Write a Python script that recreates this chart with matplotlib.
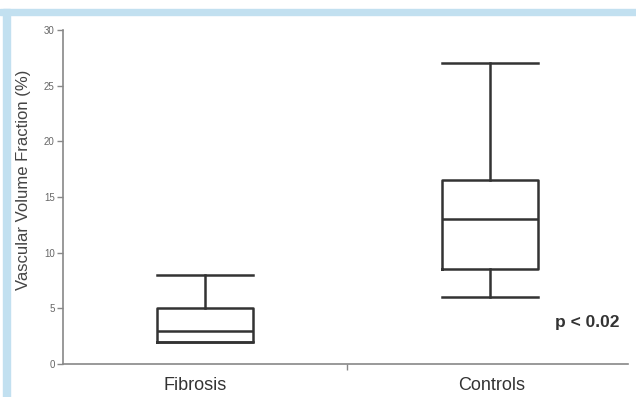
import matplotlib.pyplot as plt
from matplotlib.patches import Rectangle

plt.rcParams['font.family'] = ['Liberation Sans', 'DejaVu Sans']

# values
groups = ['Fibrosis', 'Controls']
whisk_lo = [2, 6]
q1 = [2, 8.5]
median = [3, 13]
q3 = [5, 16.5]
whisk_hi = [8, 27]
y_ticks = [0, 5, 10, 15, 20, 25, 30]
p_text = 'p < 0.02'

fig = plt.figure(figsize=(6.36, 3.97), dpi=100)

# light blue frame at top and left
blue = '#c2e0f0'
fig.patches.append(Rectangle((0, 1 - 15/397), 1, 6/397, transform=fig.transFigure,
                             color=blue, zorder=0))
fig.patches.append(Rectangle((3/636, 0), 7/636, 1 - 9/397, transform=fig.transFigure,
                             color=blue, zorder=0))

ax = fig.add_axes([63/636, 33/397, 565/636, 334/397])

stats = []
for i in range(len(groups)):
    stats.append({'whislo': whisk_lo[i], 'q1': q1[i], 'med': median[i],
                  'q3': q3[i], 'whishi': whisk_hi[i], 'fliers': []})

lw = 1.8
dark = '#333333'
ax.bxp(stats, positions=[0, 1], widths=0.337, showfliers=False,
       boxprops=dict(color=dark, linewidth=lw),
       medianprops=dict(color=dark, linewidth=lw),
       whiskerprops=dict(color=dark, linewidth=lw),
       capprops=dict(color=dark, linewidth=lw),
       capwidths=0.337)

ax.set_xlim(-0.498, 1.484)
ax.set_ylim(0, 30)

for s in ['top', 'right']:
    ax.spines[s].set_visible(False)
for s in ['left', 'bottom']:
    ax.spines[s].set_color('#888888')
    ax.spines[s].set_linewidth(1.2)

ax.set_yticks(y_ticks)
ax.set_yticklabels([str(t) for t in y_ticks], fontsize=7, color='#666666')
ax.tick_params(axis='y', length=4, width=1, color='#888888', pad=2)

# only a small tick between the groups; group names placed as text
ax.set_xticks([0.5])
ax.set_xticklabels([''])
ax.tick_params(axis='x', length=4, width=1, color='#888888')
label_x = [-0.035, 1.007]
for i in range(len(groups)):
    ax.text(label_x[i], -0.039, groups[i], transform=ax.get_xaxis_transform(),
            fontsize=13, color='#333333', ha='center', va='top')

ax.set_ylabel('Vascular Volume Fraction (%)', fontsize=12, color='#444444')
ax.yaxis.set_label_coords(-0.057, 0.55)

ax.text(1.34, 3.7, p_text, fontsize=12.5, fontweight='bold', color='#333333',
        ha='center', va='center')

fig.savefig('out.png', dpi=100)
